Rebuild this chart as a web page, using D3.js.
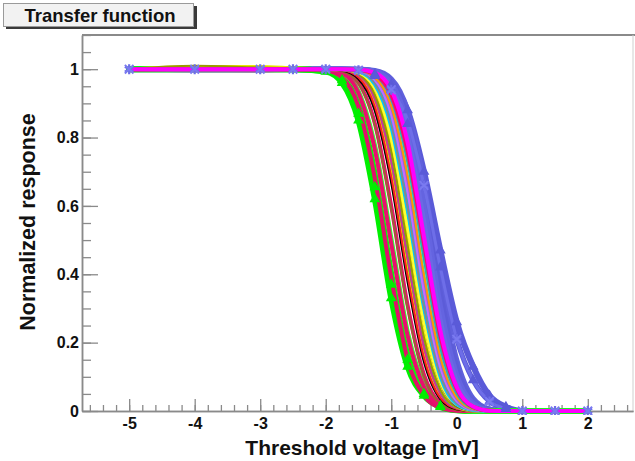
<!DOCTYPE html>
<html>
<head>
<meta charset="utf-8">
<script src="https://cdn.jsdelivr.net/npm/d3@7"></script>
<style>
  html, body { margin: 0; padding: 0; background: #fff; }
  svg { display: block; }
  text { font-family: "Liberation Sans", Arial, Helvetica, sans-serif; font-weight: bold; }
</style>
</head>
<body>
<svg id="chart" width="635" height="461"></svg>
<script>
// ---------------- DATA ----------------
const chartTitle = "Transfer function";
const xTitle = "Threshold voltage [mV]";
const yTitle = "Normalized response";
const xTickLabels = [-5, -4, -3, -2, -1, 0, 1, 2];
const yTickLabels = [0, 0.2, 0.4, 0.6, 0.8, 1];

// threshold voltages (mV) at which each channel response was measured
const voltages = [-5, -4, -3, -2.5, -2, -1.75, -1.5, -1.25, -1, -0.75, -0.5, -0.25, 0, 0.25, 0.5, 0.75, 1, 1.5, 2];

// normalized response per channel (one value per voltage)
const blueWide  = [1,1,1,1, 1,1,0.997,0.985,0.955,0.88,0.70,0.47,0.26,0.13,0.045,0.012,0, 0,0];
const blueD     = [1,1,1,1, 1,1,0.996,0.98,0.94,0.84,0.66,0.42,0.21,0.09,0.028,0.006,0, 0,0];
const blueStar  = [1,1,1,1, 1,1,0.997,0.983,0.94,0.85,0.66,0.42,0.21,0.09,0.028,0.007,0, 0,0];
const blueA     = [1,1,1,1, 1,1,1,0.996,0.972,0.88,0.67,0.38,0.15,0.037,0.006,0,0, 0,0];
const blueC     = [1,1,1,1, 1,1,1,0.995,0.965,0.86,0.635,0.345,0.128,0.03,0.005,0,0, 0,0];
const blueB     = [1,1,1,1, 1,1,1,0.994,0.960,0.841,0.599,0.309,0.106,0.023,0.003,0,0, 0,0];
const blueE     = [1,1,1,1, 1,1,0.999,0.99,0.95,0.81,0.56,0.27,0.09,0.018,0.002,0,0, 0,0];
const greenA    = [1,1,1,1, 0.993,0.96,0.85,0.62,0.33,0.13,0.045,0.012,0.002,0,0,0,0, 0,0];
const greenF    = [1,1,1,1, 0.995,0.968,0.87,0.655,0.37,0.15,0.05,0.014,0.003,0,0,0,0, 0,0];
const greenB    = [1,1,1,1, 0.996,0.975,0.9,0.7,0.41,0.17,0.06,0.018,0.004,0,0,0,0, 0,0];
const greenC    = [1,1,1,1, 0.999,0.988,0.933,0.773,0.500,0.227,0.075,0.018,0.003,0,0,0,0, 0,0];
const greenG    = [1,1,1,1, 1,0.997,0.975,0.89,0.69,0.41,0.17,0.05,0.01,0.001,0,0,0, 0,0];
const greenD    = [1,1,1,1, 1,1,0.994,0.960,0.841,0.599,0.309,0.106,0.023,0.003,0,0,0, 0,0];
const greenH    = [1,1,1,1, 1,1,0.997,0.978,0.9,0.7,0.41,0.165,0.045,0.008,0,0,0, 0,0];
const greenE    = [1,1,1,1, 1,1,0.999,0.988,0.933,0.773,0.500,0.227,0.067,0.012,0.001,0,0, 0,0];
const pinkA     = [1,1,1,1, 0.996,0.975,0.89,0.68,0.39,0.15,0.045,0.01,0.001,0,0,0,0, 0,0];
const pinkD     = [1,1,1,1, 0.999,0.988,0.93,0.765,0.49,0.22,0.07,0.015,0.002,0,0,0,0, 0,0];
const pinkB     = [1,0.998,0.997,0.998, 1,0.994,0.960,0.841,0.599,0.309,0.106,0.023,0.003,0,0,0,0, 0,0];
const pinkC     = [1,1,1,1, 1,1,0.998,0.985,0.925,0.76,0.49,0.22,0.065,0.012,0.001,0,0, 0,0];
const yellowA   = [1,1.008,1.008,1.004, 1,0.997,0.977,0.894,0.691,0.401,0.159,0.040,0.006,0,0,0,0, 0,0];
const yellowB   = [1,1,1,1, 1,0.999,0.988,0.933,0.773,0.500,0.227,0.067,0.012,0.001,0,0,0, 0,0];
const yellowC   = [1,1,1,1, 1,1,0.99,0.945,0.8,0.54,0.26,0.085,0.018,0.002,0,0,0, 0,0];
const blackCh   = [1,1,1,1, 1,0.996,0.972,0.88,0.67,0.38,0.145,0.035,0.005,0,0,0,0, 0,0];
const cyanA     = [1,1,1,1, 1,1,0.993,0.955,0.83,0.585,0.30,0.10,0.02,0.003,0,0,0, 0,0];
const cyanB     = [1,1,1,1, 1,1,0.997,0.977,0.894,0.691,0.401,0.159,0.040,0.006,0,0,0, 0,0];
const cyanC     = [1,1,1,1, 1,1,0.995,0.968,0.862,0.64,0.35,0.13,0.03,0.004,0,0,0, 0,0];
const darkBlue  = [1,1,1,1, 1,1,0.992,0.948,0.81,0.55,0.265,0.085,0.017,0.002,0,0,0, 0,0];
const purpleCh  = [1,0.995,0.995,0.998, 1,1,0.996,0.975,0.89,0.68,0.39,0.15,0.037,0.005,0,0,0, 0,0];
const violetCh  = [1,1,1,1, 1,1,0.996,0.97,0.87,0.645,0.355,0.13,0.03,0.004,0,0,0, 0,0];
const tealCh    = [1,1,1,1, 1,0.999,0.987,0.93,0.765,0.49,0.22,0.063,0.011,0.001,0,0,0, 0,0];
const tealB     = [1,1,1,1, 1,1,0.998,0.983,0.915,0.735,0.455,0.19,0.052,0.009,0.001,0,0, 0,0];
const brownCh   = [1,1,1,1, 1,0.993,0.958,0.835,0.59,0.30,0.10,0.021,0.003,0,0,0,0, 0,0];
const redCh     = [1,1,1,1, 1,0.997,0.976,0.89,0.685,0.395,0.155,0.038,0.006,0,0,0,0, 0,0];
const magentaCh = [1,1,1,1, 1,1,0.999,0.99,0.94,0.785,0.51,0.235,0.07,0.013,0.001,0,0, 0,0];
const magentaB  = [1,1,1,1, 1,0.998,0.983,0.915,0.735,0.455,0.19,0.052,0.009,0.001,0,0,0, 0,0];
const oliveCh   = [1,1.01,1.005,1.003, 1,0.999,0.985,0.925,0.76,0.485,0.215,0.062,0.011,0.001,0,0,0, 0,0];
const grayCh    = [1,1,1,1, 1,1,0.994,0.958,0.838,0.595,0.305,0.104,0.022,0.003,0,0,0, 0,0];
const orangeCh  = [1,1,1,1, 1,1,0.997,0.976,0.892,0.688,0.398,0.157,0.039,0.006,0,0,0, 0,0];

const seriesValues = [blueWide, blueD, blueA, blueC, blueB, blueE, blueStar,
  greenA, greenF, greenB, greenC, pinkA, pinkD, greenG, greenD, greenH,
  pinkB, brownCh, yellowA, blackCh, redCh, magentaB, tealCh, yellowB, oliveCh, darkBlue, yellowC,
  cyanA, grayCh, cyanC, violetCh, cyanB, purpleCh, orangeCh, tealB, greenE, pinkC, magentaCh];

// ---------------- STYLE ----------------
const seriesColors = ["#5a5ad8", "#5a5ad8", "#6060dc", "#5c5cd8", "#6464e0", "#6a6ae4", "#6e6ee8",
  "#00f000", "#00ee00", "#10f010", "#33ff33", "#e0106a", "#e8106e", "#00e800", "#00e800", "#22f022",
  "#e8106e", "#996633", "#e8e800", "#000000", "#ff2020", "#cc3399", "#339999", "#f5f500", "#999900", "#0000cc", "#ffff33",
  "#00c8ff", "#888888", "#3399ff", "#cc66ff", "#33ffff", "#9966cc", "#ff9900", "#33aaaa", "#00ee00", "#ff0070", "#ff00ff"];
const seriesWidths = [6, 5, 5, 5, 5, 4, 3,
  6, 6, 5, 5, 4, 4, 4, 4, 4,
  4, 2, 3, 2.5, 2, 3, 3, 3, 2, 3, 3,
  3.5, 2, 3, 3, 3, 3, 2, 3, 4, 4, 4];
const triangleSeries = [0, 1, 7, 8];   // indices of series drawn with triangle markers
const starSeries = 6;                  // index of series drawn with star markers

const frame = { left: 82, right: 633, top: 35, bottom: 411 };

const svg = d3.select("#chart");

const x = d3.scaleLinear().domain([-5.72, 2.69]).range([frame.left, frame.right]);
const y = d3.scaleLinear().domain([0, 1.1]).range([frame.bottom, frame.top]);

// frame
svg.append("line").attr("x1", frame.left).attr("x2", frame.right + 2).attr("y1", frame.top).attr("y2", frame.top)
  .attr("stroke", "#8a8a8a").attr("stroke-width", 2);
svg.append("line").attr("x1", frame.right).attr("x2", frame.right).attr("y1", frame.top).attr("y2", frame.bottom)
  .attr("stroke", "#cfcfcf").attr("stroke-width", 1);

// axes
const axisColor = "#8a8a8a";
function styleAxis(g) {
  g.select(".domain").attr("stroke", axisColor).attr("stroke-width", 1.5);
  g.selectAll(".tick line").attr("stroke", axisColor).attr("stroke-width", 1.3);
  g.selectAll(".tick text").attr("fill", "#111").style("font-size", "16px").style("font-weight", "bold");
}

const yMinor = d3.range(0, 1.1001, 0.05).map(v => +v.toFixed(2));
svg.append("g").attr("transform", `translate(${frame.left},0)`)
  .call(d3.axisLeft(y).tickValues(yMinor).tickSizeInner(-9).tickSizeOuter(0).tickFormat(""))
  .call(styleAxis);
svg.append("g").attr("transform", `translate(${frame.left},0)`)
  .call(d3.axisLeft(y).tickValues(yTickLabels).tickSizeInner(-16).tickSizeOuter(0).tickPadding(3)
    .tickFormat(d => String(d)))
  .call(styleAxis);

const xMinor = d3.range(-5.6, 2.69, 0.2).map(v => +v.toFixed(2));
svg.append("g").attr("transform", `translate(0,${frame.bottom})`)
  .call(d3.axisBottom(x).tickValues(xMinor).tickSizeInner(-6).tickSizeOuter(0).tickFormat(""))
  .call(styleAxis);
svg.append("g").attr("transform", `translate(0,${frame.bottom})`)
  .call(d3.axisBottom(x).tickValues(xTickLabels).tickSizeInner(-12).tickSizeOuter(0).tickPadding(7)
    .tickFormat(d => String(d)))
  .call(styleAxis);

// clip
svg.append("defs").append("clipPath").attr("id", "plotclip")
  .append("rect").attr("x", frame.left + 1).attr("y", frame.top + 1)
  .attr("width", frame.right - frame.left - 1).attr("height", frame.bottom - frame.top + 3);

const plot = svg.append("g").attr("clip-path", "url(#plotclip)");

const line = d3.line()
  .x(d => x(d[0]))
  .y(d => y(d[1]))
  .curve(d3.curveMonotoneX);

seriesValues.forEach((vals, i) => {
  const pts = voltages.map((v, k) => [v, vals[k]]);
  plot.append("path").datum(pts)
    .attr("d", line)
    .attr("fill", "none")
    .attr("stroke", seriesColors[i])
    .attr("stroke-width", seriesWidths[i])
    .attr("stroke-linejoin", "round")
    .attr("stroke-linecap", "round");
});

// triangle markers
triangleSeries.forEach(i => {
  const pts = voltages.map((v, k) => [v, seriesValues[i][k]]).filter(p => p[1] > 0.005 && p[1] < 0.995);
  plot.selectAll(null).data(pts).enter().append("path")
    .attr("d", d3.symbol().type(d3.symbolTriangle).size(50))
    .attr("transform", d => `translate(${x(d[0])},${y(d[1])})`)
    .attr("fill", seriesColors[i]);
});

// star markers
{
  const pts = voltages.map((v, k) => [v, seriesValues[starSeries][k]]).filter(p => Math.abs(p[0] * 2 - Math.round(p[0] * 2)) < 1e-6);
  plot.selectAll(null).data(pts).enter().append("path")
    .attr("d", d3.symbol().type(d3.symbolAsterisk).size(70))
    .attr("transform", d => `translate(${x(d[0])},${y(d[1])})`)
    .attr("fill", "none")
    .attr("stroke", "#6e6ee8")
    .attr("stroke-width", 2.2);
  plot.selectAll(null).data(pts).enter().append("path")
    .attr("d", d3.symbol().type(d3.symbolTimes).size(50))
    .attr("transform", d => `translate(${x(d[0])},${y(d[1])})`)
    .attr("fill", "none")
    .attr("stroke", "#7a7af0")
    .attr("stroke-width", 2);
}

// axis titles
svg.append("text")
  .attr("x", 362).attr("y", 455)
  .attr("text-anchor", "middle")
  .style("font-size", "21px")
  .attr("fill", "#111")
  .text(xTitle);
svg.append("text")
  .attr("transform", "translate(35,222) rotate(-90)")
  .attr("text-anchor", "middle")
  .style("font-size", "21.5px")
  .attr("fill", "#111")
  .text(yTitle);

// title box
svg.append("rect").attr("x", 6).attr("y", 6).attr("width", 191).attr("height", 23).attr("fill", "#3a3a3a");
svg.append("rect").attr("x", 3.5).attr("y", 3.5).attr("width", 190).attr("height", 23)
  .attr("fill", "#f2f2f2").attr("stroke", "#9a9a9a").attr("stroke-width", 1);
svg.append("text")
  .attr("x", 100).attr("y", 22)
  .attr("text-anchor", "middle")
  .style("font-size", "18.5px")
  .attr("fill", "#111")
  .text(chartTitle);
</script>
</body>
</html>
